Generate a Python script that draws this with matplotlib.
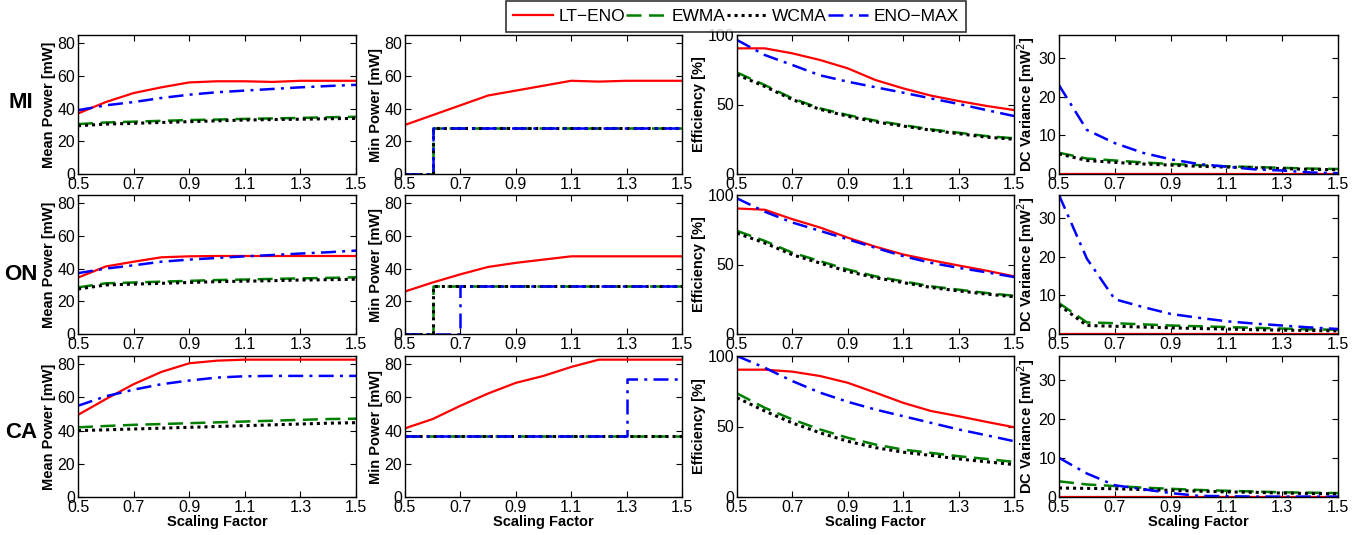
import matplotlib
matplotlib.use("Agg")
import matplotlib.pyplot as plt
from matplotlib.lines import Line2D

plt.rcParams['font.family'] = ['Liberation Sans', 'DejaVu Sans']

x = [0.5, 0.6, 0.7, 0.8, 0.9, 1.0, 1.1, 1.2, 1.3, 1.4, 1.5]
methods = ["LT\u2212ENO", "EWMA", "WCMA", "ENO\u2212MAX"]
rows = ["MI", "ON", "CA"]
ylabels = ["Mean Power [mW]", "Min Power [mW]", "Efficiency [%]", "DC Variance [mW$^2$]"]

# ---------------- MI ----------------
mi_mean_lt = [37, 44, 49.5, 53, 56, 56.7, 56.7, 56.3, 57, 57, 57]
mi_mean_ewma = [30.5, 31.5, 32, 32.5, 33, 33.3, 33.7, 34, 34.3, 34.7, 35]
mi_mean_wcma = [29.5, 30.5, 31, 31.5, 32, 32.5, 33, 33.3, 33.5, 33.8, 34]
mi_mean_max = [39, 42, 44, 46.5, 48.5, 50, 51, 52, 53, 53.8, 54.5]

mi_min_lt = [30, 36, 42, 48, 51, 54, 57, 56.5, 57, 57, 57]
mi_min_ewma = [0, 28, 28, 28, 28, 28, 28, 28, 28, 28, 28]
mi_min_wcma = [0, 28, 28, 28, 28, 28, 28, 28, 28, 28, 28]
mi_min_max = [0, 28, 28, 28, 28, 28, 28, 28, 28, 28, 28]

mi_eff_lt = [90.4, 90.4, 86.8, 82, 76, 67.6, 61.6, 56.4, 52.5, 49, 46]
mi_eff_ewma = [73, 64, 54.4, 47.2, 42.4, 38.4, 35.2, 32.1, 29.7, 27.3, 25.7]
mi_eff_wcma = [71.5, 63, 53.5, 46.5, 41.5, 37.5, 34.5, 31.5, 29, 26.5, 25]
mi_eff_max = [96.4, 85.6, 78.4, 71, 66.4, 62.4, 58.5, 54.4, 50.4, 46, 41.7]

mi_var_lt = [0, 0, 0, 0, 0, 0, 0, 0, 0, 0, 0]
mi_var_ewma = [5.5, 4, 3.5, 3, 2.6, 2.3, 2, 1.8, 1.6, 1.4, 1.3]
mi_var_wcma = [5.2, 3.5, 3, 2.6, 2.3, 2.0, 1.8, 1.6, 1.4, 1.2, 1.1]
mi_var_max = [23, 11.4, 8, 5.5, 3.8, 2.6, 1.9, 1.2, 0.9, 0.4, 0.2]

# ---------------- ON ----------------
on_mean_lt = [34.5, 41.3, 44.2, 46.9, 47.5, 47.7, 47.7, 47.7, 47.7, 47.7, 47.7]
on_mean_ewma = [28.5, 31, 31.5, 32, 32.5, 33, 33.3, 33.7, 34, 34.3, 34.7]
on_mean_wcma = [27.5, 30, 30.5, 31, 31.5, 32, 32.3, 32.6, 33, 33.2, 33.5]
on_mean_max = [37.2, 40, 42, 44.2, 45.5, 46.5, 47.5, 48.3, 49.2, 50, 51]

on_min_lt = [26, 31.5, 36.5, 41, 43.5, 45.5, 47.5, 47.5, 47.5, 47.5, 47.5]
on_min_ewma = [0, 29.5, 29.5, 29.5, 29.5, 29.5, 29.5, 29.5, 29.5, 29.5, 29.5]
on_min_wcma = [0, 29.5, 29.5, 29.5, 29.5, 29.5, 29.5, 29.5, 29.5, 29.5, 29.5]
on_min_max = [0, 0, 29.5, 29.5, 29.5, 29.5, 29.5, 29.5, 29.5, 29.5, 29.5]

on_eff_lt = [90.3, 89.4, 82.6, 76.6, 69.3, 62.8, 57.2, 53.1, 49.3, 45.6, 41.5]
on_eff_ewma = [74.2, 67, 58.5, 52.4, 46.4, 41.5, 37.9, 34.3, 31.9, 29.5, 27.5]
on_eff_wcma = [72.5, 65.5, 57, 51, 45, 40.5, 37, 33.5, 31, 28.7, 26.8]
on_eff_max = [97.6, 88, 80.2, 74.2, 68.1, 62, 56, 51.2, 47.6, 44.4, 41]

on_var_lt = [0, 0, 0, 0, 0, 0, 0, 0, 0, 0, 0]
on_var_ewma = [8, 3, 2.8, 2.5, 2.2, 2.0, 1.8, 1.6, 1.4, 1.2, 1.1]
on_var_wcma = [7.5, 2.2, 2.0, 1.8, 1.6, 1.4, 1.3, 1.1, 1.0, 0.9, 0.8]
on_var_max = [36, 19.5, 9, 7, 5.2, 4.2, 3.3, 2.7, 2.2, 1.7, 1.3]

# ---------------- CA ----------------
ca_mean_lt = [49.5, 59, 68, 75.4, 80.6, 82.2, 82.8, 82.8, 82.8, 82.8, 82.8]
ca_mean_ewma = [42, 42.8, 43.5, 44, 44.5, 45, 45.5, 46, 46.5, 47, 47.2]
ca_mean_wcma = [40, 40.5, 41, 41.5, 42, 42.5, 43, 43.5, 44, 44.5, 44.8]
ca_mean_max = [55, 60.7, 64.7, 68, 70.2, 72, 72.8, 73, 73, 73, 73]

ca_min_lt = [41.4, 47, 55, 62.4, 68.8, 73, 78.4, 82.8, 82.8, 82.8, 82.8]
ca_min_ewma = [36.8, 36.8, 36.8, 36.8, 36.8, 36.8, 36.8, 36.8, 36.8, 36.8, 36.8]
ca_min_wcma = [36.8, 36.8, 36.8, 36.8, 36.8, 36.8, 36.8, 36.8, 36.8, 36.8, 36.8]
ca_min_max = [36.8, 36.8, 36.8, 36.8, 36.8, 36.8, 36.8, 36.8, 71, 71, 71]

ca_eff_lt = [90.3, 90.3, 88.9, 85.8, 81, 74, 66.8, 61, 57.3, 53.3, 49.5]
ca_eff_ewma = [73.5, 63.3, 55, 47.9, 42, 37.2, 33.6, 31.3, 28.9, 27, 24.9]
ca_eff_wcma = [70.4, 61, 52.5, 45.5, 39.5, 35, 31.8, 29.5, 27, 25, 23]
ca_eff_max = [100, 91.7, 82.2, 74, 67.5, 62, 57.3, 52.6, 47.9, 43.8, 39.6]

ca_var_lt = [0, 0, 0, 0, 0, 0, 0, 0, 0, 0, 0]
ca_var_ewma = [4, 3.2, 2.8, 2.4, 2.1, 1.8, 1.6, 1.4, 1.2, 1.1, 1.0]
ca_var_wcma = [2.3, 2.2, 2.1, 1.9, 1.7, 1.5, 1.3, 1.2, 1.0, 0.9, 0.8]
ca_var_max = [10, 6, 3, 2, 1, 0.3, 0.2, 0.1, 0.1, 0.1, 0.1]

data = [
    [(mi_mean_lt, mi_mean_ewma, mi_mean_wcma, mi_mean_max),
     (mi_min_lt, mi_min_ewma, mi_min_wcma, mi_min_max),
     (mi_eff_lt, mi_eff_ewma, mi_eff_wcma, mi_eff_max),
     (mi_var_lt, mi_var_ewma, mi_var_wcma, mi_var_max)],
    [(on_mean_lt, on_mean_ewma, on_mean_wcma, on_mean_max),
     (on_min_lt, on_min_ewma, on_min_wcma, on_min_max),
     (on_eff_lt, on_eff_ewma, on_eff_wcma, on_eff_max),
     (on_var_lt, on_var_ewma, on_var_wcma, on_var_max)],
    [(ca_mean_lt, ca_mean_ewma, ca_mean_wcma, ca_mean_max),
     (ca_min_lt, ca_min_ewma, ca_min_wcma, ca_min_max),
     (ca_eff_lt, ca_eff_ewma, ca_eff_wcma, ca_eff_max),
     (ca_var_lt, ca_var_ewma, ca_var_wcma, ca_var_max)],
]

styles = [
    dict(color=(1, 0, 0), linestyle='-', linewidth=1.6),
    dict(color=(0, 0.5, 0), linestyle=(0, (6, 3)), linewidth=1.8),
    dict(color='black', linestyle=(0, (1, 1.3)), linewidth=2.2),
    dict(color=(0, 0, 1), linestyle=(0, (6, 2.5, 1.2, 2.5)), linewidth=1.8),
]
draw_order = [0, 1, 2, 3]

ylims = [(0, 85), (0, 85), (0, 100), (0, 36)]
yticks = [[0, 20, 40, 60, 80], [0, 20, 40, 60, 80], [0, 50, 100], [0, 10, 20, 30]]

W, H = 1364, 535
fig = plt.figure(figsize=(W / 100, H / 100), dpi=100)

col_px = [(78, 356), (405, 682), (737, 1014), (1059, 1338)]
row_px = [(35, 174), (195, 334), (356, 497)]

for r in range(3):
    for c in range(4):
        x0, x1 = col_px[c]
        y0, y1 = row_px[r]
        ax = fig.add_axes([x0 / W, 1 - y1 / H, (x1 - x0) / W, (y1 - y0) / H])
        series = data[r][c]
        for k in draw_order:
            kw = dict(styles[k])
            if c == 1 and k != 0:
                kw['drawstyle'] = 'steps-post'
            ax.plot(x, series[k], clip_on=True, **kw)
        ax.set_xlim(0.5, 1.5)
        ax.set_ylim(*ylims[c])
        ax.set_xticks([0.5, 0.7, 0.9, 1.1, 1.3, 1.5])
        ax.set_xticklabels(["0.5", "0.7", "0.9", "1.1", "1.3", "1.5"])
        ax.set_yticks(yticks[c])
        ax.tick_params(direction='in', top=True, right=True, length=4,
                       width=0.8, labelsize=11.5, pad=2)
        for s in ax.spines.values():
            s.set_linewidth(1.0)
        ax.set_ylabel(ylabels[c], fontsize=10.5, fontweight='bold', labelpad=1)
        if r == 2:
            ax.set_xlabel("Scaling Factor", fontsize=10.5, fontweight='bold', labelpad=0)

row_lbl_y = [103, 274, 432]
for r in range(3):
    fig.text(21 / W, 1 - row_lbl_y[r] / H, rows[r], fontsize=16, fontweight='bold',
             ha='center', va='center')

handles = [Line2D([], [], **styles[k]) for k in range(4)]
leg = fig.legend(handles, methods, loc='lower center', ncol=4,
                 bbox_to_anchor=(736 / W, 1 - 32 / H), fontsize=12.5,
                 frameon=True, fancybox=False, handlelength=2.3,
                 handletextpad=0.3, columnspacing=0.08, borderpad=0.45,
                 borderaxespad=0)
leg.get_frame().set_edgecolor('black')
leg.get_frame().set_linewidth(1.2)

fig.savefig("out.png", dpi=100)
